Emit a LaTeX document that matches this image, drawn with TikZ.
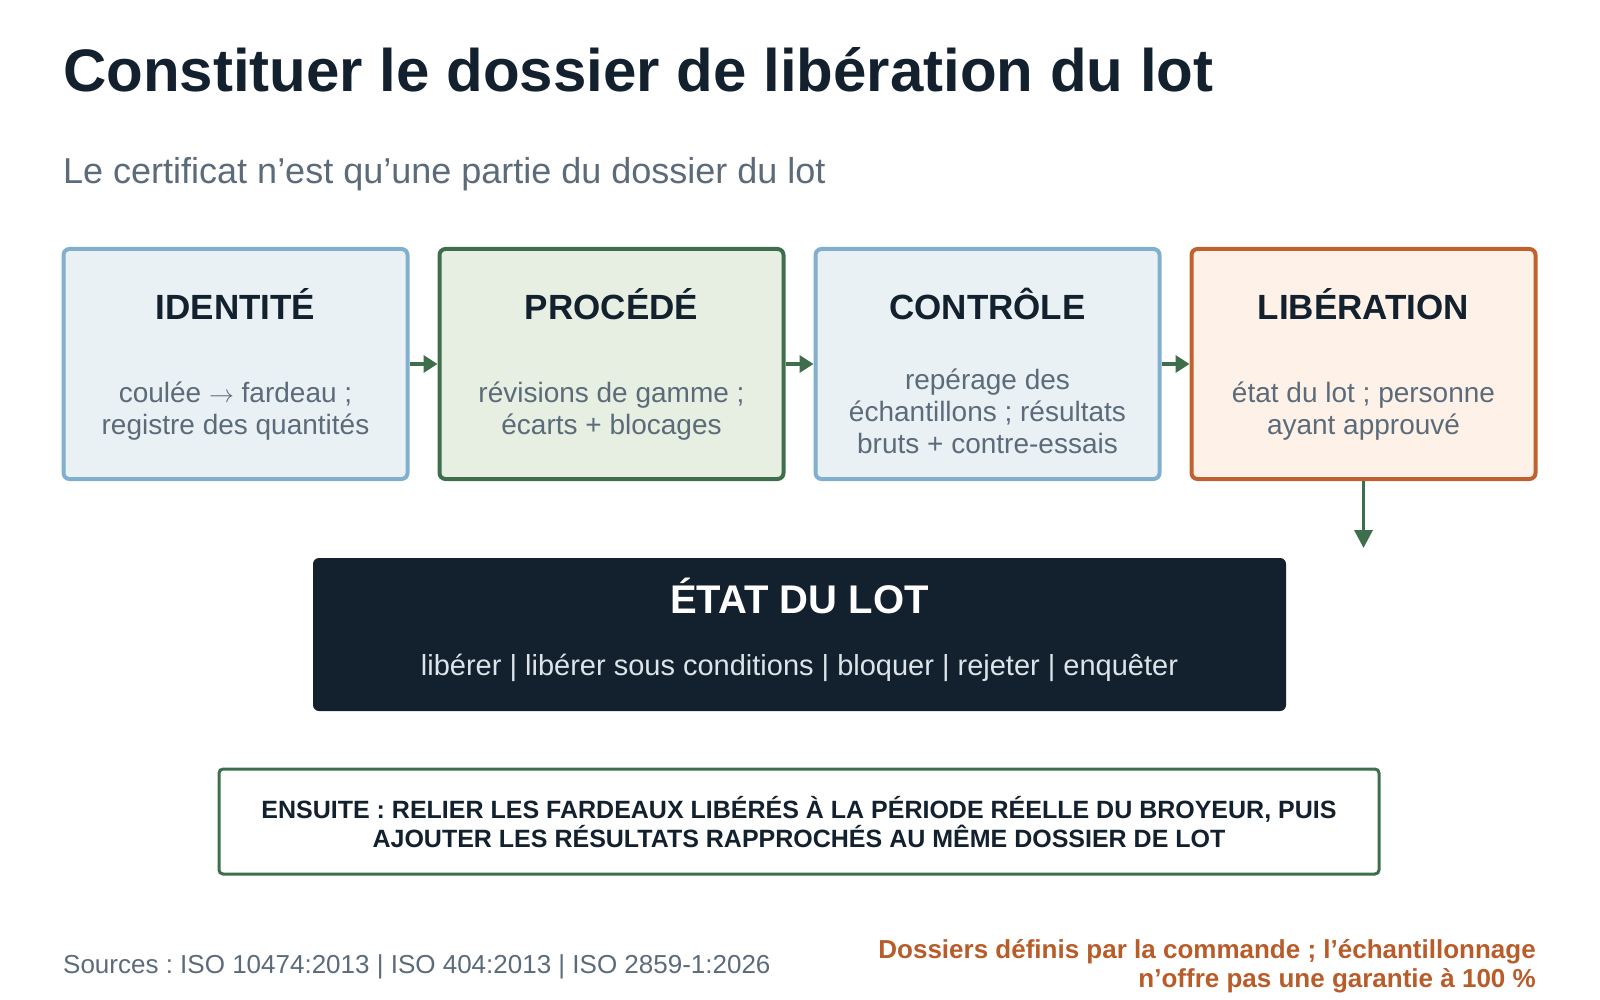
\documentclass[tikz,border=0pt]{standalone}
\usepackage{fontspec}
\setmainfont{Liberation Sans}
\usetikzlibrary{arrows.meta}
\definecolor{ink}{HTML}{13212E}
\definecolor{muted}{HTML}{5B6B7A}
\definecolor{bluefill}{HTML}{EAF1F5}
\definecolor{blueline}{HTML}{80B0CD}
\definecolor{greenfill}{HTML}{E7EFE2}
\definecolor{greenline}{HTML}{3E6E4B}
\definecolor{orangefill}{HTML}{FEF2E8}
\definecolor{orangeline}{HTML}{C0622F}
\definecolor{notecol}{HTML}{B85C2A}
\definecolor{statetext}{HTML}{DCE4EA}
\frenchspacing
\begin{document}
\begin{tikzpicture}[x=1pt,y=-1pt,
  stagebox/.style={draw, line width=4pt, rounded corners=6pt, minimum width=344pt, minimum height=230pt, inner sep=0pt},
  bluebox/.style={stagebox, draw=blueline, fill=bluefill},
  greenbox/.style={stagebox, draw=greenline, fill=greenfill},
  orangebox/.style={stagebox, draw=orangeline, fill=orangefill},
  boxtitle/.style={anchor=base, inner sep=0pt, text=ink, font=\fontsize{35}{40}\selectfont\bfseries},
  boxbody/.style={anchor=center, inner sep=0pt, align=center, text=muted, font=\fontsize{28}{32}\selectfont},
  arr/.style={draw=greenline, line width=4pt, -{Triangle[length=14pt,width=17pt]}, fill=greenline},
  darr/.style={draw=greenline, line width=3.5pt, -{Triangle[length=18pt,width=18pt]}, fill=greenline}
]
\useasboundingbox (0,0) rectangle (1600,1000);

% title and subtitle
\node[anchor=base west, inner sep=0pt, text=ink, font=\fontsize{60}{70}\selectfont\bfseries] (title) at (63,92) {Constituer le dossier de libération du lot};
\node[anchor=base west, inner sep=0pt, text=muted, font=\fontsize{36}{42}\selectfont] (subtitle) at (63,184) {Le certificat n’est qu’une partie du dossier du lot};

% stage boxes
\node[bluebox] (b1) at (235.5,364) {};
\node[greenbox] (b2) at (611.5,364) {};
\node[bluebox] (b3) at (987.5,364) {};
\node[orangebox] (b4) at (1363.5,364) {};

\node[boxtitle] (t1) at (235.5,319) {IDENTITÉ};
\node[boxtitle] (t2) at (611.5,319) {PROCÉDÉ};
\node[boxtitle] (t3) at (987.5,319) {CONTRÔLE};
\node[boxtitle] (t4) at (1363.5,319) {LIBÉRATION};

\node[boxbody] (d1) at (235.5,411) {coulée $\rightarrow$ fardeau ;\\registre des quantités};
\node[boxbody] (d2) at (611.5,411) {révisions de gamme ;\\écarts + blocages};
\node[boxbody] (d3) at (987.5,411) {repérage des\\échantillons ; résultats\\bruts + contre-essais};
\node[boxbody] (d4) at (1363.5,411) {état du lot ; personne\\ayant approuvé};

\draw[arr] (b1.east) -- (b2.west);
\draw[arr] (b2.east) -- (b3.west);
\draw[arr] (b3.east) -- (b4.west);

\coordinate (downend) at (1363.5,548);
\draw[darr] (b4.south) -- (downend);

% state box
\node[fill=ink, rounded corners=6pt, minimum width=973pt, minimum height=153pt, inner sep=0pt] (state) at (799.5,634.5) {};
\node[anchor=base, inner sep=0pt, text=white, font=\fontsize{40}{46}\selectfont\bfseries] (statetitle) at (799.5,613) {ÉTAT DU LOT};
\node[anchor=base, inner sep=0pt, text=statetext, font=\fontsize{29}{34}\selectfont] (stateline) at (799.5,675) {libérer | libérer sous conditions | bloquer | rejeter | enquêter};

% next step box
\node[draw=greenline, fill=white, line width=3pt, rounded corners=4pt, minimum width=1160pt, minimum height=105pt, inner sep=0pt] (next) at (799,821.5) {};
\node[anchor=center, inner sep=0pt, align=center, text=ink, font=\fontsize{25}{29}\selectfont\bfseries] (nexttext) at (799,822) {ENSUITE : RELIER LES FARDEAUX LIBÉRÉS À LA PÉRIODE RÉELLE DU BROYEUR, PUIS\\AJOUTER LES RÉSULTATS RAPPROCHÉS AU MÊME DOSSIER DE LOT};

% footer
\node[anchor=base west, inner sep=0pt, text=muted, font=\fontsize{26}{30}\selectfont] (sources) at (63,973) {Sources : ISO 10474:2013 | ISO 404:2013 | ISO 2859-1:2026};
\node[anchor=south east, inner sep=0pt, align=right, text=notecol, font=\fontsize{26}{29}\selectfont\bfseries] (note) at (1536,993) {Dossiers définis par la commande ; l’échantillonnage\\n’offre pas une garantie à 100 \%};
\end{tikzpicture}
\end{document}
